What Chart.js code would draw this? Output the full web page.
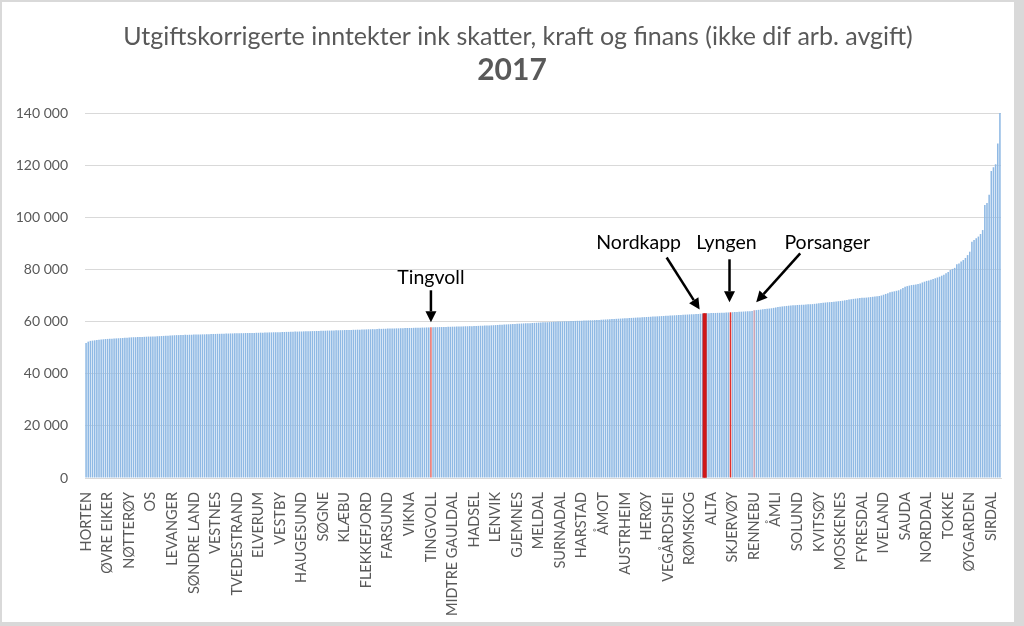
<!DOCTYPE html>
<html>
<head>
<meta charset="utf-8">
<script src="https://cdn.jsdelivr.net/npm/chart.js@4.4.0/dist/chart.umd.min.js"></script>
<style>
  html, body { margin: 0; padding: 0; background: #d9d9d9; }
  #frame { position: absolute; left: 2px; top: 2px; width: 1012px; height: 620px; background: #fff; }
</style>
</head>
<body>
<div id="frame"><canvas id="chart" width="1012" height="620"></canvas></div>
<script>
// Municipalities sorted by income; only every 10th name is printed on the axis
const labelledNames = [
  'HORTEN', 'ØVRE EIKER', 'NØTTERØY', 'OS', 'LEVANGER', 'SØNDRE LAND', 'VESTNES',
  'TVEDESTRAND', 'ELVERUM', 'VESTBY', 'HAUGESUND', 'SØGNE', 'KLÆBU', 'FLEKKEFJORD',
  'FARSUND', 'VIKNA', 'TINGVOLL', 'MIDTRE GAULDAL', 'HADSEL', 'LENVIK', 'GJEMNES',
  'MELDAL', 'SURNADAL', 'HARSTAD', 'ÅMOT', 'AUSTRHEIM', 'HERØY', 'VEGÅRDSHEI',
  'RØMSKOG', 'ALTA', 'SKJERVØY', 'RENNEBU', 'ÅMLI', 'SOLUND', 'KVITSØY', 'MOSKENES',
  'FYRESDAL', 'IVELAND', 'SAUDA', 'NORDDAL', 'TOKKE', 'ØYGARDEN', 'SIRDAL'
];
const labelEvery = 10;

// Utgiftskorrigerte inntekter per municipality (kr per innbygger), ascending
const values = [
  51800, 52300, 52600, 52700, 52800, 52900, 53000, 53100, 53200, 53300,
  53350, 53400, 53450, 53500, 53550, 53600, 53650, 53700, 53750, 53800,
  53900, 53950, 54000, 54000, 54050, 54100, 54100, 54150, 54200, 54250,
  54250, 54300, 54300, 54350, 54400, 54450, 54500, 54550, 54600, 54650,
  54700, 54750, 54800, 54800, 54850, 54850, 54900, 54900, 54950, 54950,
  55000, 55000, 55050, 55050, 55100, 55100, 55150, 55150, 55200, 55250,
  55250, 55300, 55300, 55350, 55350, 55400, 55400, 55450, 55450, 55500,
  55500, 55500, 55550, 55550, 55600, 55600, 55600, 55650, 55650, 55700,
  55700, 55750, 55750, 55800, 55800, 55850, 55850, 55900, 55900, 55950,
  55950, 56000, 56000, 56050, 56050, 56100, 56100, 56150, 56150, 56200,
  56200, 56250, 56250, 56300, 56300, 56350, 56350, 56400, 56400, 56450,
  56500, 56500, 56550, 56550, 56600, 56600, 56650, 56650, 56700, 56700,
  56750, 56750, 56800, 56800, 56850, 56850, 56900, 56900, 56950, 57000,
  57000, 57050, 57050, 57100, 57100, 57150, 57200, 57200, 57250, 57250,
  57300, 57300, 57350, 57350, 57400, 57400, 57450, 57450, 57500, 57500,
  57550, 57550, 57600, 57600, 57650, 57650, 57700, 57700, 57750, 57750,
  57800, 57800, 57850, 57850, 57900, 57900, 57950, 57950, 58000, 58000,
  58050, 58050, 58100, 58100, 58150, 58150, 58200, 58200, 58250, 58250,
  58300, 58300, 58350, 58400, 58400, 58450, 58500, 58500, 58550, 58600,
  58650, 58700, 58750, 58800, 58850, 58900, 58950, 59000, 59050, 59100,
  59150, 59200, 59250, 59300, 59350, 59400, 59400, 59450, 59500, 59550,
  59600, 59650, 59700, 59750, 59750, 59800, 59850, 59900, 59950, 60000,
  60000, 60050, 60100, 60100, 60150, 60200, 60200, 60250, 60300, 60300,
  60350, 60400, 60400, 60450, 60500, 60500, 60550, 60600, 60650, 60700,
  60750, 60800, 60850, 60900, 60950, 61000, 61050, 61100, 61150, 61200,
  61250, 61300, 61350, 61400, 61450, 61500, 61550, 61600, 61650, 61700,
  61750, 61800, 61850, 61900, 61950, 62000, 62050, 62100, 62150, 62200,
  62250, 62300, 62350, 62400, 62450, 62500, 62550, 62600, 62650, 62700,
  62750, 62800, 62850, 62900, 62950, 63000, 63050, 63100, 63150, 63200,
  63250, 63300, 63300, 63350, 63350, 63400, 63400, 63450, 63500, 63550,
  63600, 63650, 63700, 63750, 63800, 63850, 63900, 63950, 64000, 64100,
  64300, 64400, 64500, 64600, 64700, 64800, 64900, 65000, 65100, 65250,
  65400, 65550, 65700, 65800, 65900, 66000, 66100, 66200, 66250, 66300,
  66350, 66400, 66450, 66500, 66550, 66600, 66650, 66700, 66800, 66900,
  67000, 67100, 67200, 67300, 67400, 67450, 67500, 67600, 67700, 67800,
  67900, 68000, 68150, 68300, 68450, 68600, 68700, 68800, 68900, 69000,
  69100, 69150, 69200, 69300, 69400, 69500, 69600, 69700, 69800, 70000,
  70300, 70600, 70900, 71200, 71400, 71600, 71800, 72000, 72400, 72900,
  73400, 73600, 73800, 74000, 74100, 74200, 74400, 74600, 75000, 75300,
  75600, 75800, 76000, 76300, 76600, 76900, 77200, 77600, 78000, 78500,
  79000, 79800, 80200, 80600, 82000, 82300, 83000, 83600, 84400, 85500,
  86800, 90600, 91300, 92000, 92600, 93600, 95100, 104700, 105500, 108600,
  117800, 119200, 120300, 128300, 140000
];

// Highlighted municipalities (position in the sorted list)
const highlightNames = ['Tingvoll', 'Nordkapp', 'Lyngen', 'Porsanger'];
const highlightIndex = [160, 287, 299, 310];
const highlightColors = ['#e8706c', '#d01818', '#e0302c', '#c9a3b5'];

const yTicks = [0, 20000, 40000, 60000, 80000, 100000, 120000, 140000];

const categories = values.map((v, i) => i % labelEvery === 0 ? (labelledNames[i / labelEvery] || '') : '');

// arrow tail/tip and text offsets from the top of each highlighted bar
const calloutOffsets = [
  { tip: [0, -5], tail: [0, -37], text: [0, -50] },
  { tip: [-5, -4], tail: [-38, -56], text: [-66, -71] },
  { tip: [-1, -10], tail: [-1, -53], text: [-4, -70] },
  { tip: [2, -8], tail: [46, -57], text: [73, -68] }
];

function formatThousands(v) {
  return String(v).replace(/\B(?=(\d{3})+(?!\d))/g, ' ');
}

function barColor(i) {
  const k = highlightIndex.indexOf(i);
  return k >= 0 ? highlightColors[k] : '#8fb9e4';
}

function drawArrow(ctx, x1, y1, x2, y2) {
  const ang = Math.atan2(y2 - y1, x2 - x1);
  const head = 11, half = 5.5;
  const bx = x2 - head * Math.cos(ang), by = y2 - head * Math.sin(ang);
  ctx.beginPath();
  ctx.moveTo(x1, y1);
  ctx.lineTo(bx, by);
  ctx.lineWidth = 2.5;
  ctx.strokeStyle = '#000';
  ctx.stroke();
  ctx.beginPath();
  ctx.moveTo(x2, y2);
  ctx.lineTo(bx + half * Math.sin(ang), by - half * Math.cos(ang));
  ctx.lineTo(bx - half * Math.sin(ang), by + half * Math.cos(ang));
  ctx.closePath();
  ctx.fillStyle = '#000';
  ctx.fill();
}

const calloutPlugin = {
  id: 'callouts',
  afterDraw(chart) {
    const ctx = chart.ctx;
    const xs = chart.scales.x, ys = chart.scales.y;
    ctx.save();
    // titles
    ctx.fillStyle = '#595959';
    ctx.textAlign = 'center';
    ctx.textBaseline = 'middle';
    ctx.font = '25px Lato';
    ctx.fillText('Utgiftskorrigerte inntekter ink skatter, kraft og finans (ikke dif arb. avgift)', 516, 35);
    ctx.font = 'bold 30px Lato';
    ctx.fillText('2017', 510, 68);
    // arrows to highlighted municipalities
    ctx.font = '19.5px Lato';
    highlightNames.forEach((name, k) => {
      const i = highlightIndex[k];
      const bx = xs.getPixelForValue(i);
      const by = ys.getPixelForValue(values[i]);
      const o = calloutOffsets[k];
      drawArrow(ctx, bx + o.tail[0], by + o.tail[1], bx + o.tip[0], by + o.tip[1]);
      ctx.fillStyle = '#000';
      ctx.fillText(name, bx + o.text[0], by + o.text[1]);
    });
    ctx.restore();
  }
};

const nordkapp = highlightIndex[1];

new Chart(document.getElementById('chart'), {
  type: 'bar',
  data: {
    labels: categories,
    datasets: [
      {
        // widened bar for Nordkapp
        data: values.map((v, i) => i === nordkapp ? v : null),
        backgroundColor: highlightColors[1],
        barThickness: 3.5,
        grouped: false,
        order: 0
      },
      {
        data: values,
        backgroundColor: ctx => barColor(ctx.dataIndex),
        barPercentage: 0.72,
        categoryPercentage: 1.0,
        grouped: false,
        order: 1
      }
    ]
  },
  options: {
    responsive: false,
    animation: false,
    layout: { padding: { top: 111, right: 13, left: 0, bottom: 0 } },
    plugins: {
      legend: { display: false },
      tooltip: { enabled: false }
    },
    scales: {
      x: {
        grid: { display: false },
        border: { display: true, color: '#d9d9d9' },
        ticks: {
          autoSkip: false,
          minRotation: 90,
          maxRotation: 90,
          padding: 6,
          color: '#595959',
          font: { family: 'Lato', size: 14.5 }
        },
        afterFit: scale => {
          scale.height = 144;
          scale.paddingLeft = 0;
          scale.paddingRight = 0;
        }
      },
      y: {
        min: 0,
        max: 140000,
        afterBuildTicks: scale => { scale.ticks = yTicks.map(v => ({ value: v })); },
        grid: { color: '#d9d9d9', drawTicks: false },
        border: { display: false },
        ticks: {
          padding: 17,
          color: '#595959',
          font: { family: 'Lato', size: 14 },
          callback: v => formatThousands(v)
        },
        afterFit: scale => { scale.width = 83; }
      }
    }
  },
  plugins: [calloutPlugin]
});
</script>
</body>
</html>
